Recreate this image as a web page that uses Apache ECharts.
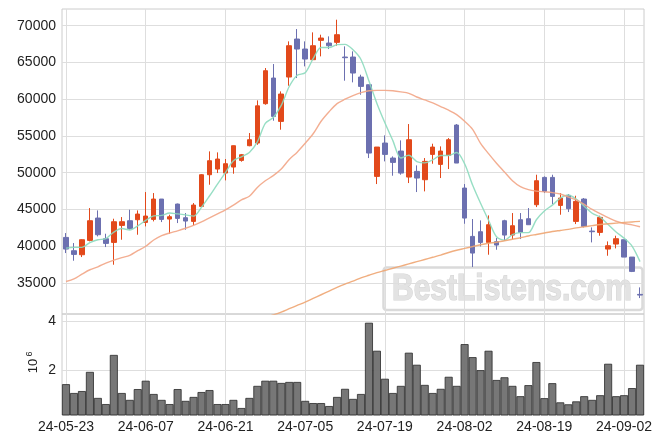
<!DOCTYPE html>
<html><head><meta charset="utf-8">
<script src="https://cdn.jsdelivr.net/npm/echarts@6/dist/echarts.min.js"></script>
<style>html,body{margin:0;padding:0;background:#fff}#c{width:663px;height:444px}</style>
</head><body><div id="c"></div>
<script>
const dates = ['24-05-23','24-05-24','24-05-27','24-05-28','24-05-29','24-05-30','24-05-31','24-06-03','24-06-04','24-06-05',
'24-06-07','24-06-10','24-06-11','24-06-12','24-06-13','24-06-14','24-06-17','24-06-18','24-06-19','24-06-20',
'24-06-21','24-06-24','24-06-25','24-06-26','24-06-27','24-06-28','24-07-01','24-07-02','24-07-03','24-07-04',
'24-07-05','24-07-08','24-07-09','24-07-10','24-07-11','24-07-12','24-07-15','24-07-16','24-07-17','24-07-18',
'24-07-19','24-07-22','24-07-23','24-07-24','24-07-25','24-07-26','24-07-29','24-07-30','24-07-31','24-08-01',
'24-08-02','24-08-05','24-08-06','24-08-07','24-08-08','24-08-09','24-08-12','24-08-13','24-08-14','24-08-16',
'24-08-19','24-08-20','24-08-21','24-08-22','24-08-23','24-08-26','24-08-27','24-08-28','24-08-29','24-08-30',
'24-09-02','24-09-03','24-09-04'];

const opens = [41200,39389,38844,40794,43833,41021,40522,42835,43470,43606,
43243,43651,46418,43697,45738,43878,43379,45420,49728,50500,
49956,50772,51679,53675,54037,59390,62880,56985,63016,68186,
66826,65375,68005,67642,67733,65737,65737,63016,61973,49502,
54036,51996,52948,49411,50182,49048,52494,51134,52358,56485,
47914,41339,41974,40522,40613,43470,41520,43606,43742,45647,
49365,49365,45556,46917,43379,46418,42064,41883,39615,40296,
40885,38527,33448];
const closes = [39615,38890,40885,43470,41565,40386,43334,43334,42427,44377,
44105,46418,43651,44014,43787,43425,45602,49728,51633,51861,
51226,53675,52450,54491,59098,63878,57665,60704,67279,66826,
65465,67279,68322,67279,68776,65647,63561,61746,52676,53493,
52494,51406,49955,54490,49275,51542,53493,52948,54490,51316,
43832,39071,40522,42926,40160,41520,42790,41883,42926,48912,
47461,46781,46554,45103,46100,42699,41973,43924,40069,41021,
38527,36577,33357];
const lows = [39071,38028,38527,40658,41339,39887,37484,40885,42245,41565,
42699,43379,43288,41701,43152,42245,42880,45420,48368,49956,
48958,49865,51500,53600,53800,59252,57076,55851,61837,62880,
64468,65375,65828,66826,67279,62518,62291,60612,51996,48459,
51542,49592,49729,48594,47370,47461,51225,49275,50499,51316,
43061,37166,39978,38845,39524,40749,40976,40976,42926,45329,
47234,45737,44286,44649,43016,42563,40522,41429,38708,39706,
38527,36486,32949];
const highs = [41792,40432,40950,45193,44876,41701,43742,43969,44967,44876,
47370,47234,46418,44286,45800,44513,45874,49819,52903,52767,
51861,53700,52550,55398,59842,64241,64785,61066,67869,69547,
67869,69093,68776,68549,70816,67188,66508,63333,61973,53493,
55079,52222,54399,56621,50998,51996,53946,53583,54717,56621,
48459,43697,43515,44196,41112,43600,44513,44513,45193,49728,
49500,49728,47234,47098,46871,46554,42563,44150,40658,41429,
40885,38527,34400];
// volume in units of 10^6
const volumes = [1.43,1.07,1.15,1.93,0.87,0.62,2.62,1.07,0.79,1.23,
1.57,1.03,0.79,0.62,1.23,0.75,0.91,1.11,1.19,0.62,
0.62,0.79,0.46,0.87,1.36,1.57,1.57,1.48,1.52,1.52,
0.75,0.66,0.66,0.54,0.91,1.24,0.83,1.03,3.93,2.79,
1.65,1.07,1.36,2.71,2.22,1.40,1.07,1.24,1.73,1.36,
3.06,2.53,2.00,2.79,1.60,1.71,1.36,0.94,1.39,2.33,
0.86,1.47,0.69,0.61,0.73,0.94,0.79,0.98,2.26,0.94,
0.98,1.27,2.22];
const ma5 = [39750,39840,39850,40500,40885,41039,41928,42418,42209,42772,
43515,44132,44196,44513,44395,44259,44096,45311,46835,48450,
50010,51625,52169,52741,54188,56718,57516,59167,61725,63270,
63588,65511,67034,67034,67424,67461,66717,65402,62481,59425,
56794,54363,52005,52368,51524,51334,51751,52350,52350,52758,
51216,48331,45846,43533,41293,40831,41574,41847,41847,43606,
44794,45593,46527,46962,46400,45447,44486,43960,42953,41937,
41103,40024,37910];
const ma20 = [35200,35550,36200,36800,37200,37700,38100,38450,38750,39400,
40000,40850,41450,41800,42100,42450,42850,43300,43850,44400,
44950,45600,46300,46800,48000,48900,49600,50500,51800,52800,
54000,55300,57000,58300,59400,60000,60500,60900,61150,61200,
61200,61150,61000,60800,60300,59900,59500,59000,58500,57900,
57000,55900,54000,52600,51300,50100,48900,48100,47700,47500,
47400,47300,47100,46700,46300,45700,45000,44450,43900,43400,
43100,42900,42650];
const ma60 = [24300,24500,24700,24900,25100,25300,25500,25700,25900,26100,
26350,26600,26850,27100,27350,27600,27850,28100,28350,28600,
28850,29100,29400,29700,30000,30300,30650,31050,31500,31950,
32400,32900,33400,33900,34400,34850,35250,35700,36050,36400,
36700,37000,37300,37600,37900,38200,38500,38800,39150,39450,
39700,39950,40200,40400,40550,40750,40950,41150,41400,41600,
41800,42000,42150,42300,42500,42650,42800,42950,43050,43150,
43250,43300,43380];
const priceTicks = [35000,40000,45000,50000,55000,60000,65000,70000];
const volumeTicks = [2,4];
const dateLabelStep = 10;

const FONT = '"Liberation Sans", Arial, sans-serif';
const UP = '#e2491b', DOWN = '#6c70b0';
const candles = opens.map((o, i) => [o, closes[i], lows[i], highs[i]]);
const everyStep = (i) => i % dateLabelStep === 0;

const chart = echarts.init(document.getElementById('c'), null, {renderer: 'canvas'});
const gridLine = {show: true, lineStyle: {color: '#dedede', width: 1}};
chart.setOption({
  animation: false,
  backgroundColor: '#fff',
  grid: [
    {left: 62, top: 9, width: 582, height: 305, show: true, borderColor: '#cccccc', borderWidth: 1, backgroundColor: 'transparent'},
    {left: 62, top: 314, width: 582, height: 101, show: true, borderColor: '#cccccc', borderWidth: 1, backgroundColor: 'transparent'}
  ],
  xAxis: [
    {type: 'category', gridIndex: 0, data: dates, boundaryGap: true,
     axisLine: {show: false}, axisTick: {show: false}, axisLabel: {show: false, interval: everyStep},
     splitLine: {show: true, interval: everyStep, alignWithLabel: true, lineStyle: {color: '#dedede'}}},
    {type: 'category', gridIndex: 1, data: dates, boundaryGap: true,
     axisLine: {show: false}, axisTick: {show: false},
     axisLabel: {interval: everyStep, fontSize: 14, color: '#222', margin: 5, fontFamily: FONT, hideOverlap: false},
     splitLine: {show: true, interval: everyStep, alignWithLabel: true, lineStyle: {color: '#dedede'}}}
  ],
  yAxis: [
    {type: 'value', gridIndex: 0, min: 30782, max: 72272,
     axisLine: {show: false}, axisTick: {show: false, customValues: priceTicks},
     axisLabel: {customValues: priceTicks, formatter: (v) => String(v), fontSize: 14, color: '#222', margin: 6, fontFamily: FONT},
     splitLine: gridLine},
    {type: 'value', gridIndex: 1, min: 0.1755, max: 4.286,
     axisLine: {show: false}, axisTick: {show: false, customValues: volumeTicks},
     axisLabel: {customValues: volumeTicks, formatter: (v) => String(v), fontSize: 14, color: '#222', margin: 6, fontFamily: FONT},
     splitLine: gridLine}
  ],
  series: [
    {type: 'candlestick', xAxisIndex: 0, yAxisIndex: 0, data: candles, barWidth: 5,
     itemStyle: {color: UP, color0: DOWN, borderColor: UP, borderColor0: DOWN, borderWidth: 1}},
    {type: 'line', xAxisIndex: 0, yAxisIndex: 0, data: ma5, symbol: 'none', smooth: 0.3,
     lineStyle: {color: '#8cdabe', width: 1.4, opacity: 0.9}},
    {type: 'line', xAxisIndex: 0, yAxisIndex: 0, data: ma20, symbol: 'none', smooth: 0.3,
     lineStyle: {color: '#f2a586', width: 1.4, opacity: 0.9}},
    {type: 'line', xAxisIndex: 0, yAxisIndex: 0, data: ma60, symbol: 'none', smooth: 0.3,
     lineStyle: {color: '#eea572', width: 1.4, opacity: 0.9}},
    {type: 'bar', xAxisIndex: 1, yAxisIndex: 1, data: volumes, barCategoryGap: '0%',
     itemStyle: {color: 'rgba(112,112,112,0.95)', borderColor: '#2a2a2a', borderWidth: 0.8}}
  ],
  graphic: [
    {type: 'text', x: 33.5, y: 366, rotation: Math.PI / 2,
     style: {text: '10', font: '13px ' + FONT, fill: '#222', align: 'center', verticalAlign: 'middle'}},
    {type: 'text', x: 29.5, y: 354, rotation: Math.PI / 2,
     style: {text: '6', font: '9px ' + FONT, fill: '#222', align: 'center', verticalAlign: 'middle'}},
    {type: 'group', z: 100, children: [
      {type: 'rect', shape: {x: 383.5, y: 267.5, width: 259, height: 42.5, r: 3},
       style: {fill: 'rgba(255,255,255,0.45)', stroke: '#dadada', lineWidth: 2.5}},
      {type: 'text', x: 512, y: 290, scaleY: 1.2,
       style: {text: 'BestListens.com', font: 'bold 30px ' + FONT, fill: '#e3e3e3', stroke: '#d4d4d4', lineWidth: 1, align: 'center', verticalAlign: 'middle'}}
    ]}
  ]
});
</script></body></html>
